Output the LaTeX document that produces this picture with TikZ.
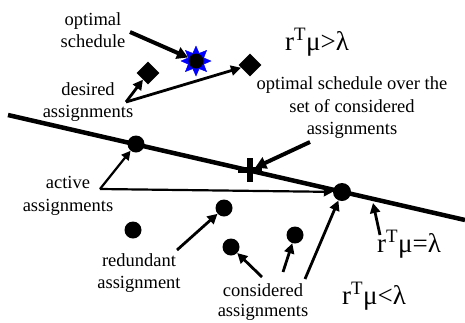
\documentclass[tikz,border=0pt]{standalone}
\usepackage{fontspec}
\setmainfont{Liberation Serif}
\usetikzlibrary{arrows.meta,shapes.geometric,calc}
\begin{document}
\begin{tikzpicture}[x=1pt,y=-1pt,
  dot/.style={circle,fill=black,inner sep=0pt,minimum size=17pt},
  lbl/.style={font=\fontsize{18.5}{22.5}\selectfont,align=center,inner sep=0pt},
  big/.style={font=\fontsize{27}{30}\selectfont,inner sep=0pt,anchor=base west},
  arr/.style={-{Triangle[length=9pt,width=9pt]},line width=2.2pt},
  marr/.style={-{Triangle[length=10pt,width=10pt]},line width=2.8pt},
  tarr/.style={-{Triangle[length=11pt,width=12pt]},line width=4pt},
  diam/.style={diamond,fill=black,inner sep=0pt,minimum size=23pt}]
\useasboundingbox (0,0) rectangle (465,322);
% main line
\coordinate (L1) at (8,115);
\coordinate (L2) at (465,220);
\draw[line width=4.5pt] (L1) -- (L2);
% cross
\node[inner sep=0pt,minimum size=10pt] (x) at (250,170) {};
\fill ($(x)+(-2.8,-12)$) rectangle ($(x)+(2.8,12)$);
\fill ($(x)+(-12,-2.8)$) rectangle ($(x)+(12,2.8)$);
% dots
\node[dot] (a1) at (136,144) {};
\node[dot,minimum size=18pt] (a2) at (342,192) {};
\node[dot] (r1) at (224,208) {};
\node[dot] (r2) at (133,230) {};
\node[dot] (c1) at (231,247) {};
\node[dot] (c2) at (295,235) {};
% star
\node[star,star points=8,star point ratio=1.8,fill=blue,draw=blue,inner sep=0pt,minimum size=30pt] (st) at (196,61) {};
\node[circle,fill=black,inner sep=0pt,minimum size=15pt] (stc) at (st) {};
% diamonds
\node[diam] (d1) at (148,73) {};
\node[diam] (d2) at (250,65) {};
% labels
\node[lbl] (os) at (93,30) {optimal\\schedule};
\node[lbl] (da) at (88,102) {desired\\assignments};
\node[lbl] (ov) at (352,108) {optimal schedule over the\\set of considered\\assignments};
\node[lbl] (ac) at (68,196) {active\\assignments};
\node[lbl] (rd) at (139,273) {redundant\\assignment};
\node[lbl,font=\fontsize{18.5}{20.5}\selectfont] (ca) at (263,302) {considered\\assignments};
\node[big] (g1) at (285,50) {r\textsuperscript{T}μ>λ};
\node[big] (g2) at (377,252) {r\textsuperscript{T}μ=λ};
\node[big] (g3) at (342,304) {r\textsuperscript{T}μ<λ};
% arrow start points
\coordinate (osA) at (130,32);
\coordinate (daA) at (126,102);
\coordinate (ovA) at (310,142);
\coordinate (acA) at (100,189);
\coordinate (rdA) at (177,250);
\coordinate (caA) at (262,277);
\coordinate (caB) at (283,272);
\coordinate (caC) at (305,279);
\coordinate (g2A) at (380,235);
\coordinate (lp) at (373,203);
% arrows
\draw[tarr] (osA) -- (st);
\draw[marr] (daA) -- (d1);
\draw[marr] (daA) -- (d2);
\draw[tarr] (ovA) -- (x);
\draw[arr] (acA) -- (a1);
\draw[arr] (acA) -- (a2);
\draw[marr] (rdA) -- (r1);
\draw[marr] (caA) -- (c1);
\draw[marr] (caB) -- (c2);
\draw[marr] (caC) -- (a2);
\draw[marr] (g2A) -- (lp);
\end{tikzpicture}
\end{document}
